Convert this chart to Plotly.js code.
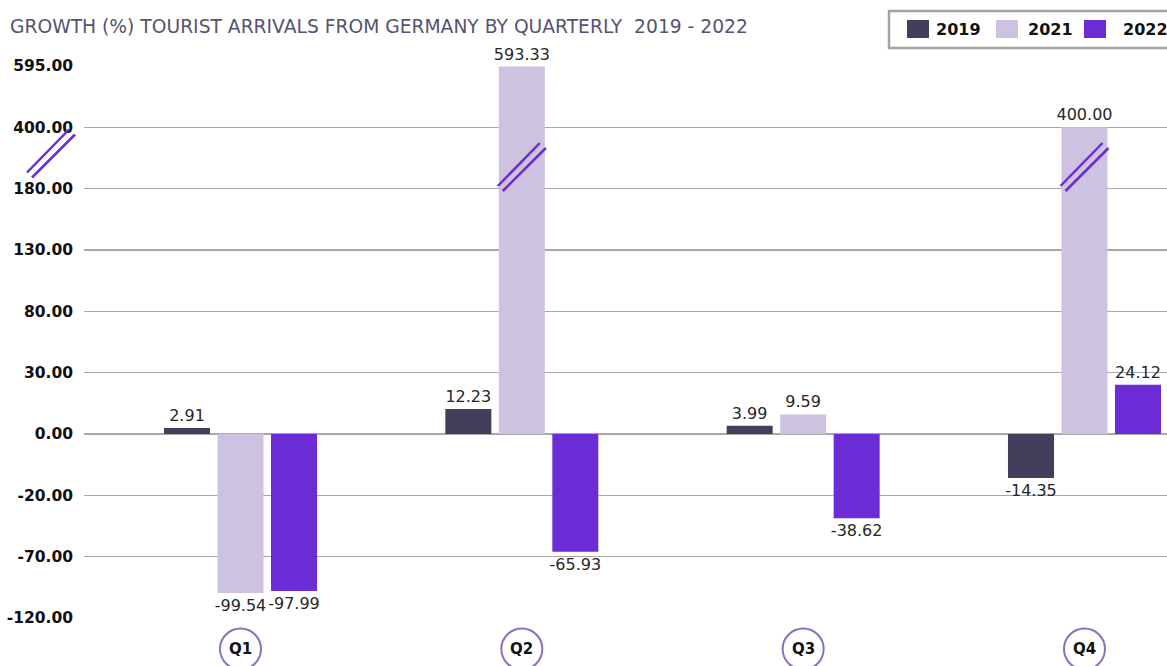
<!DOCTYPE html>
<html>
<head>
<meta charset="utf-8">
<script src="https://cdn.plot.ly/plotly-3.0.1.min.js"></script>
<style>html,body{margin:0;padding:0;background:#fff;}#chart{width:1167px;height:666px;}</style>
</head>
<body>
<div id="chart"></div>
<script>
// ---- data ----
const categories = ['Q1', 'Q2', 'Q3', 'Q4'];
const seriesNames = ['2019', '2021', '2022'];
const values2019 = [2.91, 12.23, 3.99, -14.35];
const values2021 = [-99.54, 593.33, 9.59, 400.00];
const values2022 = [-97.99, -65.93, -38.62, 24.12];
const tickValues = [-120, -70, -20, 0, 30, 80, 130, 180, 400, 595];
const seriesColors = ['#433e5a', '#cec2e1', '#6b2bd5'];
const titleText = 'GROWTH (%) TOURIST ARRIVALS FROM GERMANY BY QUARTERLY  2019 - 2022';

// ---- broken (piecewise) axis scale ----
function toAxis(v) {
  const n = tickValues.length;
  let i = 0;
  while (i < n - 2 && v > tickValues[i + 1]) i++;
  return i + (v - tickValues[i]) / (tickValues[i + 1] - tickValues[i]);
}
const basePos = toAxis(0);

// ---- geometry helpers (page pixels -> paper) ----
const W = 1167, H = 666;
const M = {l: 84, r: 0, t: 66, b: 48};
const PW = W - M.l - M.r, PH = H - M.t - M.b;
const px = x => (x - M.l) / PW;
const py = y => (H - M.b - y) / PH;

const FONT = 'DejaVu Sans, sans-serif';
const seriesValues = [values2019, values2021, values2022];

const traces = seriesValues.map((vals, k) => ({
  type: 'bar',
  name: seriesNames[k],
  x: categories,
  base: vals.map(() => basePos),
  y: vals.map(v => toAxis(v) - basePos),
  text: vals.map(v => v.toFixed(2)),
  textposition: 'outside',
  constraintext: 'none',
  cliponaxis: false,
  textfont: {family: FONT, size: 16, color: '#262626'},
  marker: {color: seriesColors[k]},
  hoverinfo: 'skip',
  showlegend: false
}));

const shapes = [];
const annotations = [];

// category circles + labels
categories.forEach((c, i) => {
  shapes.push({type: 'circle', xref: 'x', xsizemode: 'pixel', xanchor: i, x0: -20.5, x1: 20.5,
    yref: 'paper', ysizemode: 'pixel', yanchor: py(649), y0: -20.5, y1: 20.5,
    line: {color: '#8b6fbd', width: 2}, fillcolor: 'rgba(0,0,0,0)'});
  annotations.push({xref: 'x', x: i, yref: 'paper', y: py(649), text: c, showarrow: false,
    xanchor: 'center', yanchor: 'middle', font: {family: FONT, size: 15, weight: 'bold', color: '#111'}});
});

// axis break marks
function breakMark(xref, xanchor, yanchor) {
  const segs = [[-24, -19, 18, 24], [-19, -24, 24, 19]];
  segs.forEach(s => shapes.push({type: 'line', xref: xref, xsizemode: 'pixel', xanchor: xanchor,
    x0: s[0], x1: s[2], yref: 'y', ysizemode: 'pixel', yanchor: yanchor, y0: s[1], y1: s[3],
    line: {color: '#6b2bd5', width: 2.5}}));
}
breakMark('paper', px(51), (H - M.b - 153.5) / (PH / 9));
breakMark('x', 1, (H - M.b - 167) / (PH / 9));
breakMark('x', 3, (H - M.b - 167) / (PH / 9));

// legend box
shapes.push({type: 'rect', xref: 'paper', yref: 'paper', x0: px(889), x1: px(1185), y0: py(48), y1: py(11),
  line: {color: '#a3a3a3', width: 2.5}, fillcolor: '#fff'});
const legSq = [907, 996, 1084], legTx = [934, 1026, 1121];
seriesNames.forEach((n, k) => {
  shapes.push({type: 'rect', xref: 'paper', yref: 'paper', x0: px(legSq[k]), x1: px(legSq[k] + 22),
    y0: py(38), y1: py(20), line: {width: 0}, fillcolor: seriesColors[k]});
  annotations.push({xref: 'paper', yref: 'paper', x: px(legTx[k]), y: py(29.5), text: n, showarrow: false,
    xanchor: 'left', yanchor: 'middle', font: {family: FONT, size: 16, weight: 'bold', color: '#111'}});
});

const layout = {
  width: W, height: H,
  margin: M,
  paper_bgcolor: '#fff', plot_bgcolor: '#fff',
  title: {text: titleText, xref: 'container', yref: 'container', x: 10 / W, xanchor: 'left',
    y: 1 - 26 / H, yanchor: 'middle', font: {family: FONT, size: 18.7, color: '#55536f'}},
  barmode: 'group', bargap: 0.4295, bargroupgap: 0.14,
  showlegend: false,
  xaxis: {type: 'category', range: [-0.5563, 3.2933], showgrid: false, showticklabels: false,
    zeroline: false, showline: false, fixedrange: true},
  yaxis: {range: [0, 9], tickmode: 'array', tickvals: tickValues.map((v, i) => i),
    ticktext: tickValues.map(v => v.toFixed(2)), showgrid: true, gridcolor: '#a8a8a8', gridwidth: 1.5,
    zeroline: false, showline: false, ticks: '', ticklabelstandoff: 10,
    tickfont: {family: FONT, size: 15.5, weight: 'bold', color: '#111'}, fixedrange: true},
  shapes: shapes,
  annotations: annotations
};

Plotly.newPlot('chart', traces, layout, {displayModeBar: false, staticPlot: true});
</script>
</body>
</html>
